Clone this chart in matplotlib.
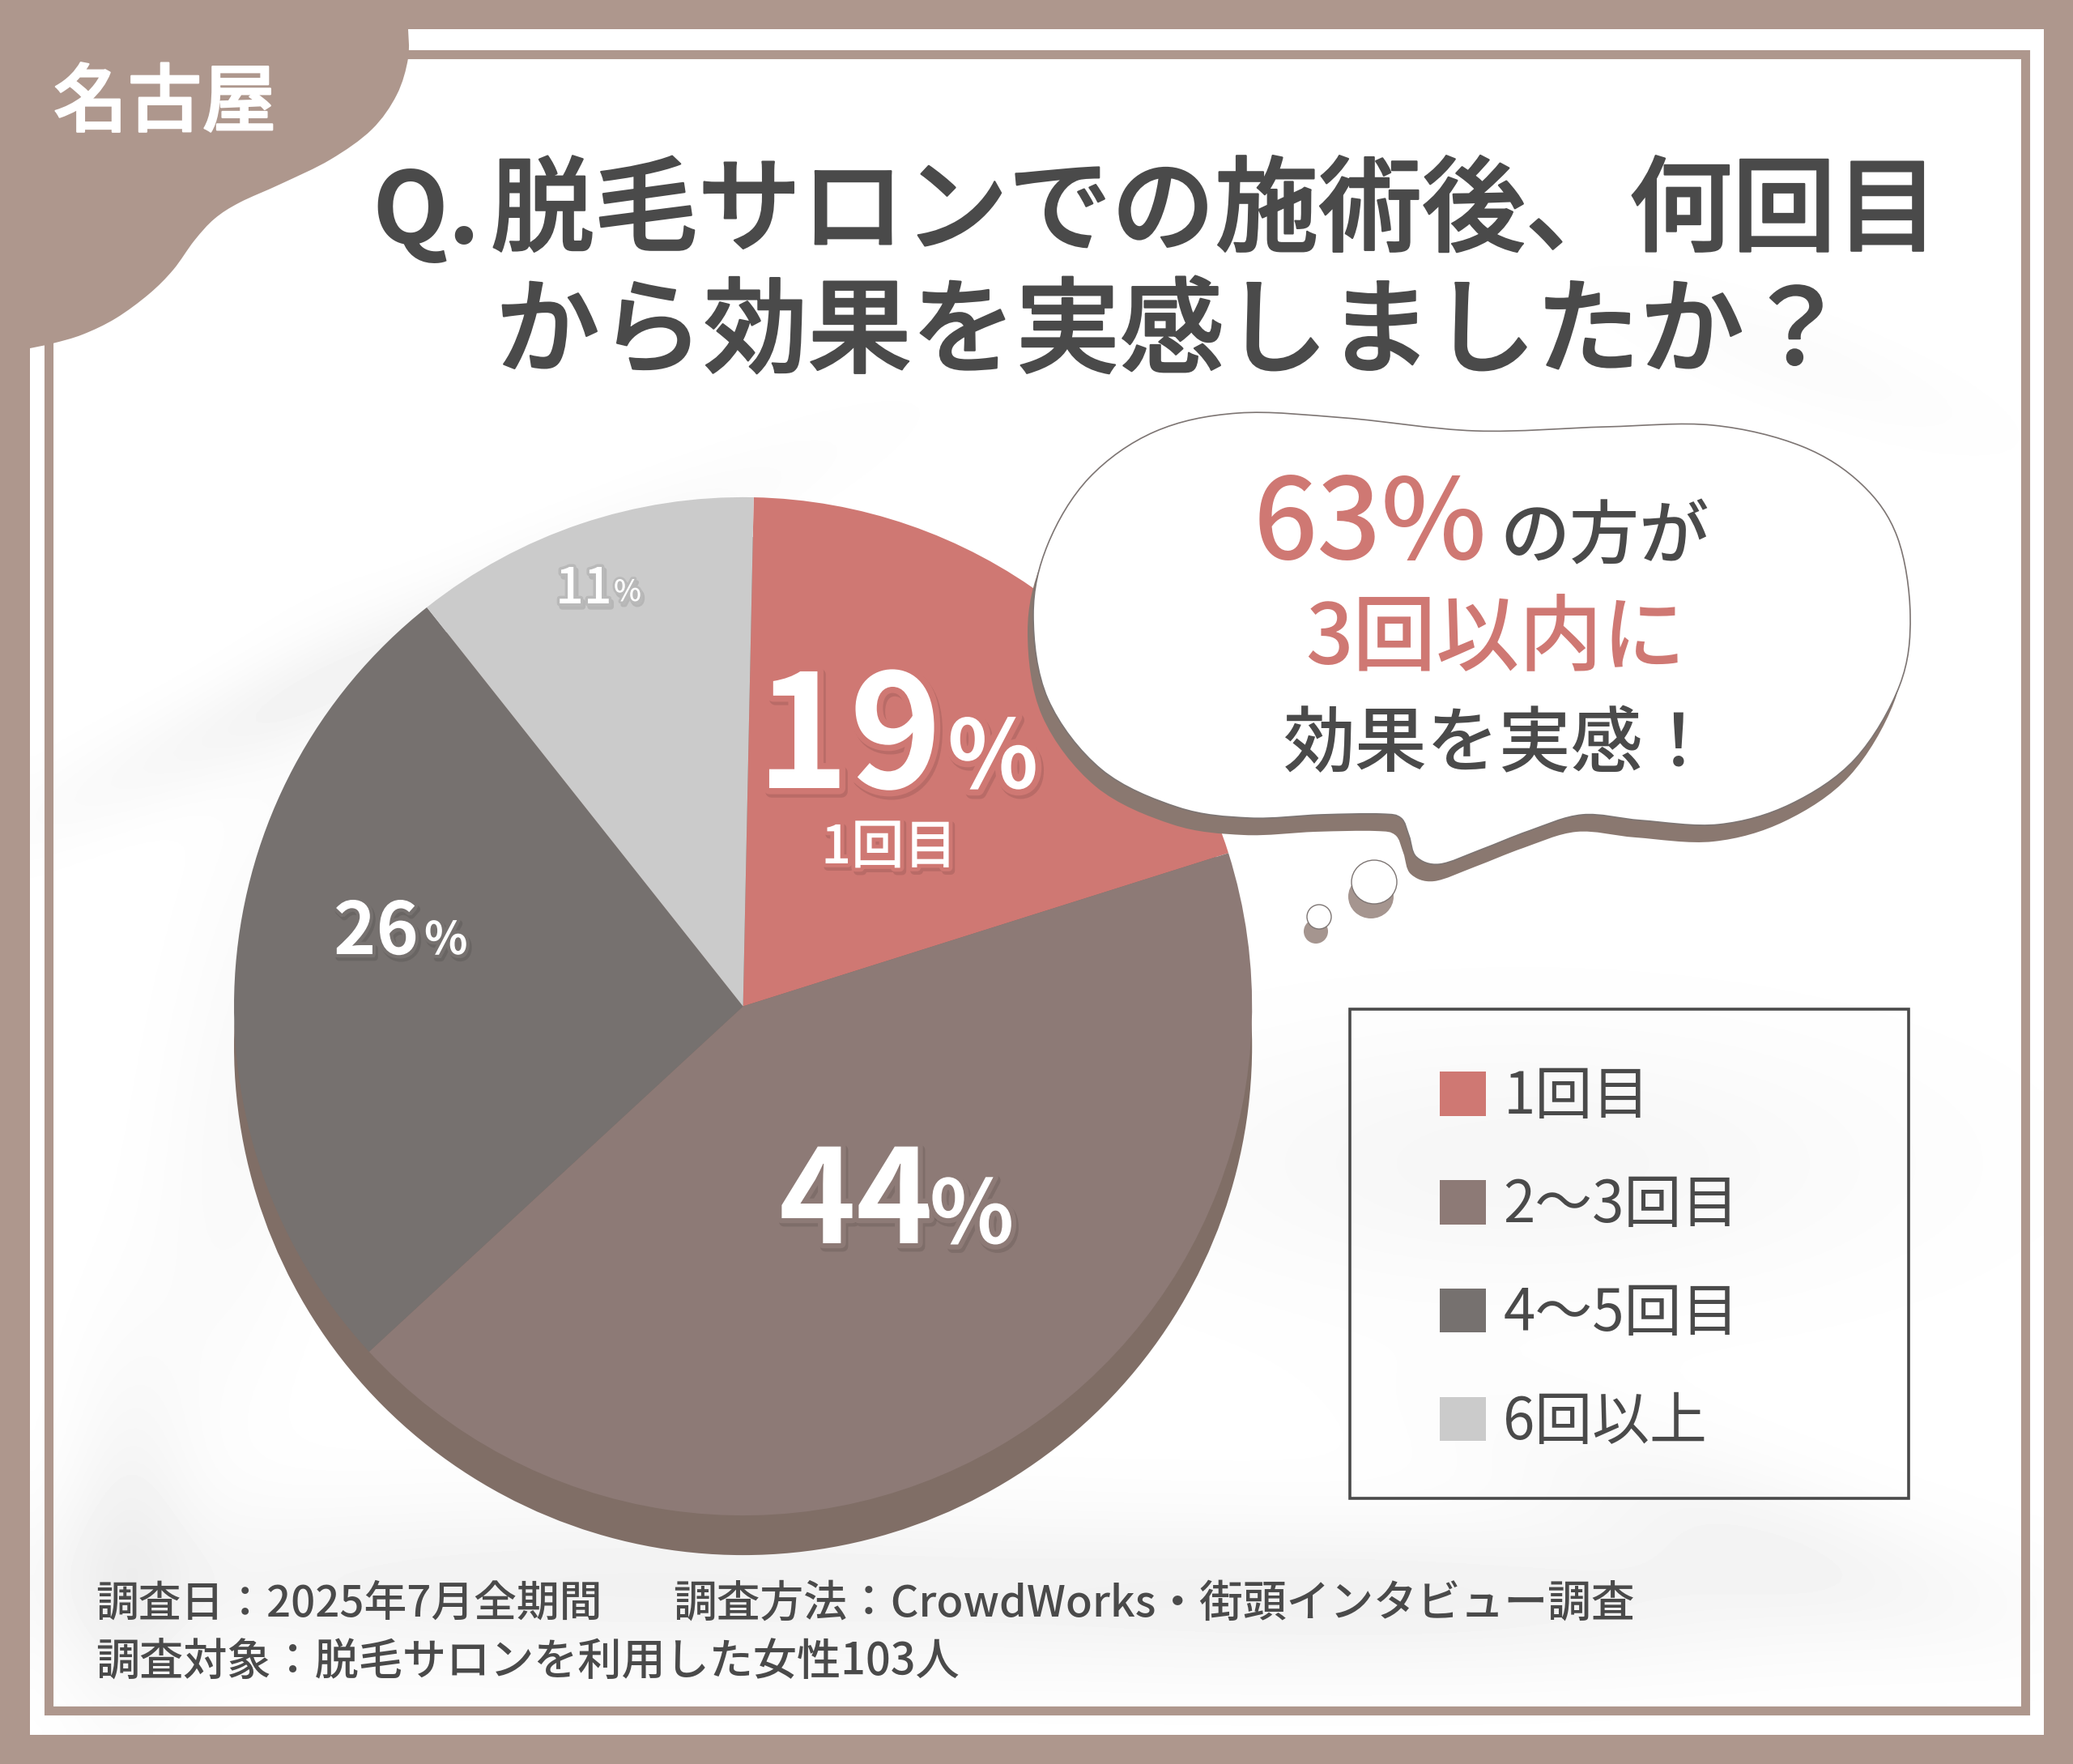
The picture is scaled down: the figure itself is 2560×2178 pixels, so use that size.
import numpy as np
import matplotlib
matplotlib.use('Agg')
import matplotlib.pyplot as plt
import matplotlib.patheffects as pe
from matplotlib.patches import Circle, Ellipse, PathPatch, Rectangle
from matplotlib.path import Path

plt.rcParams['font.family'] = ['Noto Sans CJK JP', 'DejaVu Sans']

# pie data (shares as drawn in the picture, labels as printed)
categories = ['1回目', '2～3回目', '4～5回目', '6回以上']
shares = [19.8, 43.0, 26.2, 11.0]
colors = ['#cf7873', '#8d7a76', '#76716f', '#cbcbcb']

BAND = '#ae978d'
TEXT = '#4a4a4a'
PINK = '#cf7873'
W, H = 2560, 2178

fig = plt.figure(figsize=(W / 100, H / 100), dpi=100, facecolor=BAND)

# background layer in pixel coordinates
bg = fig.add_axes([0, 0, 1, 1], zorder=0)
bg.set_xlim(0, W)
bg.set_ylim(H, 0)
bg.axis('off')

# soft grey marbling: x, y, sx, sy, angle, strength
blobs = [
    (450, 800, 480, 60, -25, 0.045),
    (280, 1350, 110, 420, 10, 0.025),
    (700, 1990, 800, 110, 0, 0.05),
    (1800, 2010, 600, 100, 0, 0.045),
    (1900, 1450, 480, 170, 0, 0.035),
    (2150, 1900, 350, 90, 20, 0.03),
    (2250, 420, 260, 60, 20, 0.015),
    (120, 1950, 80, 240, 0, 0.04),
]
xx, yy = np.meshgrid(np.linspace(0, W, 256), np.linspace(0, H, 218))
shade = np.ones_like(xx)
for bx, by, sx, sy, ang, amp in blobs:
    a = np.radians(ang)
    u = (xx - bx) * np.cos(a) + (yy - by) * np.sin(a)
    v = -(xx - bx) * np.sin(a) + (yy - by) * np.cos(a)
    shade -= amp * np.exp(-(u / sx) ** 2 - (v / sy) ** 2)
bg.imshow(shade, extent=(37, 2524, 2142, 36), cmap='gray', vmin=0, vmax=1,
          interpolation='bilinear', aspect='auto', zorder=1)
bg.set_xlim(0, W)
bg.set_ylim(H, 0)

# inner frame line
bg.add_patch(Rectangle((59.5, 66.5), 2441, 2045, fill=False, ec=BAND, lw=8, zorder=2))


def smooth_path(pts, closed=True):
    # catmull-rom through the points, as bezier segments
    pts = np.array(pts, dtype=float)
    n = len(pts)
    verts = [pts[0]]
    codes = [Path.MOVETO]
    last = n if closed else n - 1
    for i in range(last):
        p0 = pts[(i - 1) % n] if closed or i > 0 else pts[i]
        p1 = pts[i]
        p2 = pts[(i + 1) % n]
        p3 = pts[(i + 2) % n] if closed or i + 2 < n else p2
        verts += [p1 + (p2 - p0) / 6, p2 - (p3 - p1) / 6, p2]
        codes += [Path.CURVE4] * 3
    return Path(verts, codes)


# corner tab
tab_edge = [(504, 36), (504, 72), (490, 117), (459, 160), (408, 197), (347, 227),
            (296, 250), (265, 270), (240, 297), (214, 333), (184, 363), (143, 393),
            (102, 413), (65, 424), (37, 430)]
tab = smooth_path(tab_edge, closed=False)
tab = Path(np.vstack([tab.vertices, [[0, 430], [0, 0], [504, 0], [504, 36]]]),
           list(tab.codes) + [Path.LINETO] * 4)
bg.add_patch(PathPatch(tab, fc=BAND, ec='none', zorder=3))

# pie
cx, cy, R = 917.6, 1242.5, 628.6
pie_ax = fig.add_axes([(cx - R) / W, 1 - (cy + R) / H, 2 * R / W, 2 * R / H], zorder=1)
pie_ax.add_patch(Circle((0, -49 / R), 1, fc='#806e66', ec='none', clip_on=False, zorder=0))
wedges, _ = pie_ax.pie(shares, colors=colors, startangle=88.8, counterclock=False,
                       radius=1, wedgeprops={'linewidth': 0, 'zorder': 1})
pie_ax.set_xlim(-1, 1)
pie_ax.set_ylim(-1, 1)

# overlay layer in pixel coordinates
top = fig.add_axes([0, 0, 1, 1], zorder=2)
top.set_xlim(0, W)
top.set_ylim(H, 0)
top.axis('off')
top.patch.set_alpha(0)

# speech bubble
bubble_pts = [(1529, 510), (1661, 516), (1822, 532), (1983, 527), (2115, 525), (2225, 551),
              (2299, 598), (2343, 663), (2359, 759), (2346, 846), (2291, 937), (2211, 993),
              (2123, 1018), (2027, 1013), (1954, 1006), (1888, 1026), (1829, 1049), (1778, 1067),
              (1749, 1058), (1740, 1032), (1730, 1010), (1705, 1005), (1631, 1006), (1543, 1010),
              (1455, 997), (1360, 950), (1294, 863), (1276, 759), (1294, 672), (1345, 590),
              (1426, 533)]
bubble = smooth_path(bubble_pts)
shadow = Path(bubble.vertices + np.array([-7, 21]), bubble.codes)
top.add_patch(PathPatch(shadow, fc='#8a7870', ec='none', zorder=2))
top.add_patch(PathPatch(bubble, fc='white', ec='#7d7573', lw=1.2, zorder=3))
for ex, ey, ew, eh in [(1697, 1089, 56, 54), (1629, 1132, 30, 30)]:
    top.add_patch(Ellipse((ex - 4, ey + 18), ew, eh, fc='#a5958f', ec='none', zorder=2))
    top.add_patch(Ellipse((ex, ey), ew, eh, fc='white', ec='#7d7573', lw=1.0, zorder=3))


def outlined(x, y, s, size, base, stroke=11, drop=(2, -3), weight='bold'):
    # white label with a wedge-coloured halo and a faint drop shadow
    top.text(x, y, s, fontsize=size, color='white', fontweight=weight, va='baseline', zorder=5,
             path_effects=[pe.Stroke(linewidth=stroke, foreground='#000000', alpha=0.10, offset=drop),
                           pe.Stroke(linewidth=stroke, foreground=base),
                           pe.Normal()])


outlined(934, 973, '19', 140, PINK)
outlined(1170, 973, '%', 84, PINK)
outlined(1014, 1066, '1回目', 47, PINK, stroke=7, weight='medium')
outlined(962, 1535, '44', 116, colors[1], stroke=9)
outlined(1148, 1535, '%', 78, colors[1], stroke=9)
outlined(412, 1178, '26', 64, colors[2], stroke=6)
outlined(524, 1178, '%', 40, colors[2], stroke=6)
outlined(686, 745, '11', 44, '#b9b9b9', stroke=5, weight='medium')
outlined(758, 742, '%', 26, '#b9b9b9', stroke=4, weight='medium')

# title and tab, thickened a little with a same-colour stroke
heavy = [pe.withStroke(linewidth=1.6, foreground=TEXT)]
top.text(66, 155, '名古屋', fontsize=66, color='white', fontweight='medium', va='baseline', zorder=5,
         path_effects=[pe.withStroke(linewidth=1.6, foreground='white')])
top.text(459, 300, 'Q.', fontsize=88, color=TEXT, fontweight='bold', va='baseline', zorder=5)
top.text(606, 300, '脱毛サロンでの施術後、何回目', fontsize=92, color=TEXT, fontweight='medium',
         va='baseline', zorder=5, path_effects=heavy)
top.text(612, 450, 'から効果を実感しましたか？', fontsize=92.5, color=TEXT, fontweight='medium',
         va='baseline', zorder=5, path_effects=heavy)

# bubble text
top.text(1548, 690, '63%', fontsize=100, color=PINK, fontweight='medium', va='baseline', zorder=5)
top.text(1852, 689, 'の方が', fontsize=62, color=TEXT, fontweight='medium', va='baseline', zorder=5)
top.text(1612, 820, '3回以内に', fontsize=74, color=PINK, fontweight='medium', va='baseline', zorder=5)
top.text(1584, 946, '効果を実感！', fontsize=64, color=TEXT, fontweight='medium', va='baseline', zorder=5)

# legend
top.add_patch(Rectangle((1667, 1246), 690, 604, fill=False, ec=TEXT, lw=2.6, zorder=4))
leg = top.legend(wedges, categories, loc='upper left', bbox_to_anchor=(1778 / W, 1 - 1318 / H),
                 bbox_transform=fig.transFigure, frameon=False, fontsize=51, handlelength=0.805,
                 handleheight=0.805, handletextpad=0.3, labelspacing=0.86, borderpad=0,
                 borderaxespad=0, labelcolor=TEXT)
leg.set_zorder(5)

# survey notes
top.text(118, 1996, '調査日：2025年7月全期間', fontsize=38, color=TEXT, fontweight='medium', va='baseline', zorder=5)
top.text(831, 1996, '調査方法：CrowdWorks・街頭インタビュー調査', fontsize=38.7, color=TEXT, fontweight='medium', va='baseline', zorder=5)
top.text(118, 2069, '調査対象：脱毛サロンを利用した女性103人', fontsize=39, color=TEXT, fontweight='medium', va='baseline', zorder=5)

fig.savefig('out.png', dpi=100, facecolor=BAND)
